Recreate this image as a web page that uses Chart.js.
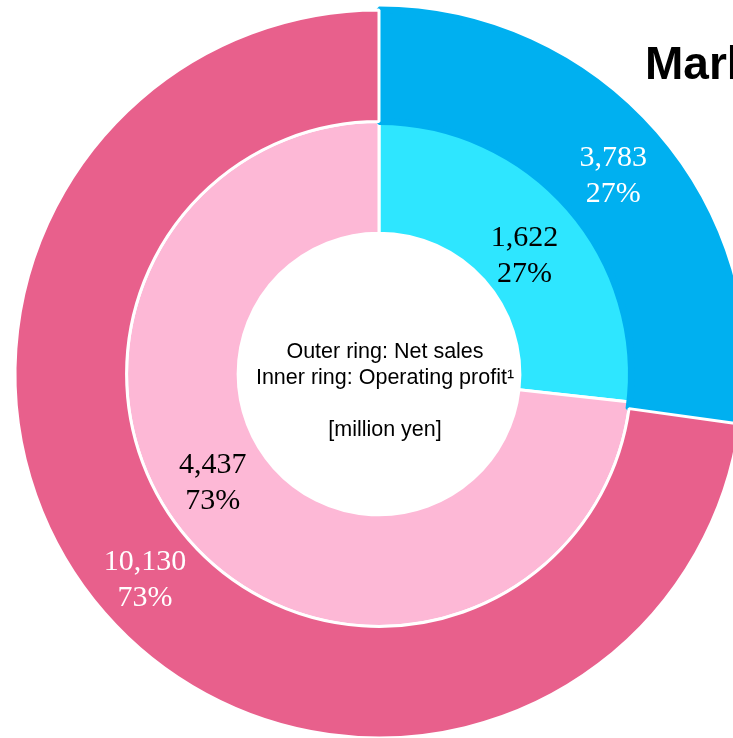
<!DOCTYPE html>
<html>
<head>
<meta charset="utf-8">
<script src="https://cdn.jsdelivr.net/npm/chart.js@4"></script>
<style>
  html, body { margin: 0; padding: 0; background: #fff; overflow: hidden; width: 733px; height: 738px; }
  #wrap { position: absolute; left: 0; top: 0; width: 758px; height: 748px; }
</style>
</head>
<body>
<div id="wrap"><canvas id="chart"></canvas></div>
<script>
// segments, clockwise from 12 o'clock
const segments = ['Segment A', 'Segment B'];
const netSales = [3783, 10130];         // outer ring
const operatingProfit = [1622, 4437];   // inner ring
const outerColors = ['#00b0f0', '#e8608c'];
const innerColors = ['#2ee6ff', '#fdb8d6'];
const centerLines = ['Outer ring: Net sales', 'Inner ring: Operating profit\u00b9', '', '[million yen]'];
const titleText = 'Market share';

// where each label sits inside its arc: [angle fraction, radial fraction]
const labelPlace = [
  [[0.505, 0.50], [0.50, 0.52]],
  [[0.523, 0.43], [0.534, 0.51]]
];
const labelColors = ['#ffffff', '#000000'];

const ringLabels = {
  id: 'ringLabels',
  afterDatasetsDraw(chart) {
    const ctx = chart.ctx;
    ctx.save();
    ctx.font = '30px "Liberation Serif", "Times New Roman", serif';
    ctx.textAlign = 'center';
    ctx.textBaseline = 'alphabetic';
    chart.data.datasets.forEach((ds, di) => {
      const meta = chart.getDatasetMeta(di);
      const total = ds.data.reduce((a, b) => a + b, 0);
      meta.data.forEach((arc, i) => {
        const p = arc.getProps(['x', 'y', 'startAngle', 'endAngle', 'innerRadius', 'outerRadius'], true);
        const [fa, fr] = labelPlace[di][i];
        const ang = p.startAngle + (p.endAngle - p.startAngle) * fa;
        const r = p.innerRadius + (p.outerRadius - p.innerRadius) * fr;
        const cx = p.x + Math.cos(ang) * r;
        const cy = p.y + Math.sin(ang) * r;
        ctx.fillStyle = labelColors[di];
        ctx.fillText(ds.data[i].toLocaleString('en-US'), cx, cy - 8);
        ctx.fillText(Math.round(ds.data[i] / total * 100) + '%', cx, cy + 28);
      });
    });

    // centre note
    const a0 = chart.getDatasetMeta(0).data[0];
    ctx.fillStyle = '#000';
    ctx.font = '21.5px "Liberation Sans", Arial, sans-serif';
    centerLines.forEach((t, k) => {
      ctx.fillText(t, a0.x + 6, a0.y - 16 + k * 26);
    });

    // title (cut off by the page edge)
    ctx.textAlign = 'left';
    ctx.font = 'bold 46px "Liberation Sans", Arial, sans-serif';
    ctx.fillText(titleText, 645, 79);
    ctx.restore();
  }
};

new Chart(document.getElementById('chart'), {
  type: 'doughnut',
  data: {
    labels: segments,
    datasets: [
      {
        label: 'Net sales',
        data: netSales,
        backgroundColor: outerColors,
        borderColor: ['#00b0f0', '#ffffff'],
        borderWidth: [7, 3],
        borderJoinStyle: 'bevel'
      },
      {
        label: 'Operating profit',
        data: operatingProfit,
        backgroundColor: innerColors,
        borderColor: '#ffffff',
        borderWidth: 3
      }
    ]
  },
  options: {
    responsive: true,
    maintainAspectRatio: false,
    animation: false,
    radius: 364,
    cutout: '38.7%',
    layout: { padding: 0 },
    plugins: {
      legend: { display: false },
      tooltip: { enabled: false },
      title: { display: false }
    }
  },
  plugins: [ringLabels]
});
</script>
</body>
</html>
